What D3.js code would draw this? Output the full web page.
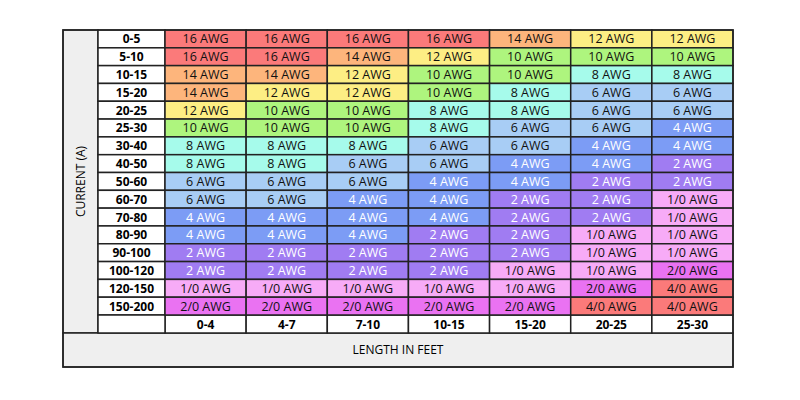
<!DOCTYPE html><html><head><meta charset="utf-8"><script src="https://cdn.jsdelivr.net/npm/d3@7"></script>
<style>body{margin:0;background:#fff}text{font-family:"Open Sans",sans-serif}</style></head><body><svg id="c" width="800" height="400"></svg><script>
const currents=["0-5","5-10","10-15","15-20","20-25","25-30","30-40","40-50","50-60","60-70","70-80","80-90","90-100","100-120","120-150","150-200"];
const lengths=["0-4","4-7","7-10","10-15","15-20","20-25","25-30"];
const gauges=[
["16","16","16","16","14","12","12"],
["16","16","14","12","10","10","10"],
["14","14","12","10","10","8","8"],
["14","12","12","10","8","6","6"],
["12","10","10","8","8","6","6"],
["10","10","10","8","6","6","4"],
["8","8","8","6","6","4","4"],
["8","8","6","6","4","4","2"],
["6","6","6","4","4","2","2"],
["6","6","4","4","2","2","1/0"],
["4","4","4","4","2","2","1/0"],
["4","4","4","2","2","1/0","1/0"],
["2","2","2","2","2","1/0","1/0"],
["2","2","2","2","1/0","1/0","2/0"],
["1/0","1/0","1/0","1/0","1/0","2/0","4/0"],
["2/0","2/0","2/0","2/0","2/0","4/0","4/0"]];
const gaugeKeys=["16","14","12","10","8","6","4","2","1/0","2/0","4/0"];
const gaugeColors=["#fb7a7a","#fdb57c","#fdee84","#aef57e","#a6fbeb","#a8cdf5","#7c9cf5","#a07cf2","#f7abf7","#ea72f2","#fb7a7a"];
const color=d3.scaleOrdinal(gaugeKeys,gaugeColors);
const svg=d3.select("#c");
const L=63,R=733,T=30,rowLabelX=98,cellX=165,rowsBottom=315,labelBottom=333,B=367;
const x=d3.scaleBand(lengths,[cellX,R]);
const y=d3.scaleBand(currents,[T,rowsBottom]);
// frames
svg.append("rect").attr("x",L).attr("y",T).attr("width",rowLabelX-L).attr("height",labelBottom-T).attr("fill","#efefef").attr("stroke","#222").attr("stroke-width",1.5);
svg.append("rect").attr("x",L).attr("y",labelBottom).attr("width",R-L).attr("height",B-labelBottom).attr("fill","#efefef").attr("stroke","#222").attr("stroke-width",1.5);
svg.append("text").attr("transform",`translate(${(L+rowLabelX)/2+4},${(T+labelBottom)/2}) rotate(-90)`).attr("text-anchor","middle").attr("font-size",12).text("CURRENT (A)");
svg.append("text").attr("x",(L+R)/2).attr("y",(labelBottom+B)/2+4).attr("text-anchor","middle").attr("font-size",12).text("LENGTH IN FEET");
// row labels
const rl=svg.append("g");
rl.selectAll("rect").data(currents).join("rect").attr("x",rowLabelX).attr("y",d=>y(d)).attr("width",cellX-rowLabelX).attr("height",y.bandwidth()).attr("fill","#fff").attr("stroke","#222").attr("stroke-width",1.5);
rl.selectAll("text").data(currents).join("text").attr("x",(rowLabelX+cellX)/2).attr("y",d=>y(d)+y.bandwidth()/2+4.5).attr("text-anchor","middle").attr("font-size",12).attr("font-weight","bold").text(d=>d);
// column labels
const cl=svg.append("g");
cl.selectAll("rect").data(lengths).join("rect").attr("x",d=>x(d)).attr("y",rowsBottom).attr("width",x.bandwidth()).attr("height",labelBottom-rowsBottom).attr("fill","#fff").attr("stroke","#222").attr("stroke-width",1.5);
cl.selectAll("text").data(lengths).join("text").attr("x",d=>x(d)+x.bandwidth()/2).attr("y",rowsBottom+13.5).attr("text-anchor","middle").attr("font-size",12).attr("font-weight","bold").text(d=>d);
svg.append("rect").attr("x",rowLabelX).attr("y",rowsBottom).attr("width",cellX-rowLabelX).attr("height",labelBottom-rowsBottom).attr("fill","#fff").attr("stroke","#222").attr("stroke-width",1.5);
// cells
const cells=[];
gauges.forEach((row,i)=>row.forEach((g,j)=>cells.push({c:currents[i],l:lengths[j],g})));
const cg=svg.append("g");
cg.selectAll("rect").data(cells).join("rect").attr("x",d=>x(d.l)).attr("y",d=>y(d.c)).attr("width",x.bandwidth()).attr("height",y.bandwidth()).attr("fill",d=>color(d.g)).attr("stroke","#222").attr("stroke-width",1.5);
cg.selectAll("text").data(cells).join("text").attr("x",d=>x(d.l)+x.bandwidth()/2).attr("y",d=>y(d.c)+y.bandwidth()/2+4.5).attr("text-anchor","middle").attr("font-size",12.5)
 .attr("fill",d=>(d.g==="4"||d.g==="2")?"#fff":"#111").text(d=>d.g+" AWG");
svg.append("rect").attr("x",L).attr("y",T).attr("width",R-L).attr("height",B-T).attr("fill","none").attr("stroke","#222").attr("stroke-width",1.5);
</script></body></html>
